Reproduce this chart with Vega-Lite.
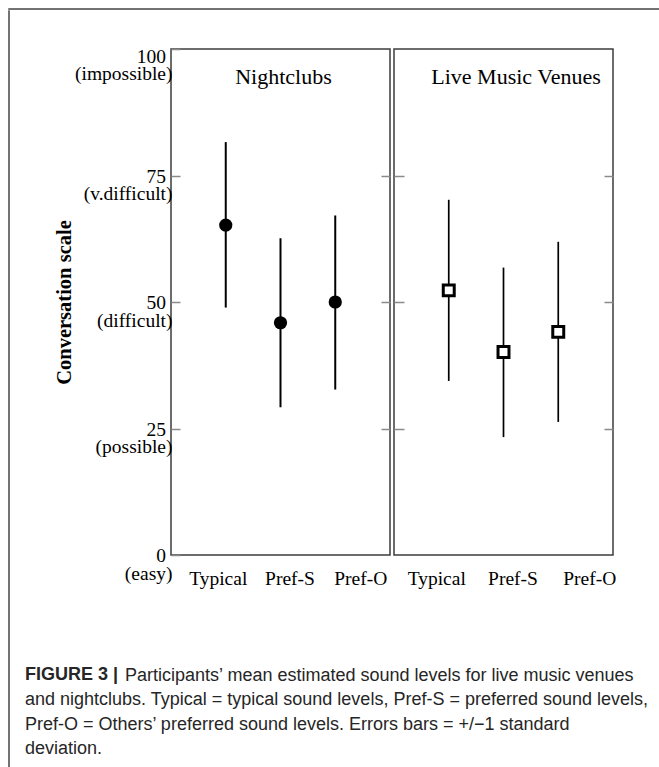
{
  "$schema": "https://vega.github.io/schema/vega-lite/v6.json",
  "background": "white",
  "padding": {"left": 8, "top": 8, "right": 0, "bottom": 0},
  "config": {"view": {"stroke": null}},
  "title": {
    "text": "FIGURE 3 |",
    "subtitle": [
      "\u200b\u00a0\u00a0\u00a0\u00a0\u00a0\u00a0\u00a0\u00a0\u00a0\u00a0\u00a0\u00a0\u00a0\u00a0\u00a0\u00a0\u00a0\u00a0\u00a0\u00a0Participants’ mean estimated sound levels for live music venues",
      "and nightclubs. Typical = typical sound levels, Pref-S = preferred sound levels,",
      "Pref-O = Others’ preferred sound levels. Errors bars = +/−1 standard",
      "deviation."
    ],
    "orient": "bottom", "anchor": "start", "frame": "bounds", "align": "left", "baseline": "top",
    "offset": -104.5, "dx": 16.75,
    "font": "Liberation Sans", "fontSize": 18, "fontWeight": "bold", "color": "#262626", "lineHeight": 24.5,
    "subtitleFont": "Liberation Sans", "subtitleFontSize": 18, "subtitleFontWeight": "normal",
    "subtitleColor": "#262626", "subtitleLineHeight": 24.5, "subtitlePadding": -17.5
  },
  "spacing": 0,
  "vconcat": [
    {"width": 651, "height": 0.001, "view": {"stroke": "#444444", "strokeWidth": 1.5}, "data": {"values": []}, "mark": "rect"},
    {
      "spacing": 43,
      "hconcat": [
        {"width": 0.001, "height": 759, "view": {"stroke": "#444444", "strokeWidth": 1.5}, "data": {"values": []}, "mark": "rect"},
        {
          "spacing": 33,
          "vconcat": [
            {"width": 0.001, "height": 0.001, "data": {"values": []}, "mark": "rect"},
            {
              "spacing": 0,
              "hconcat": [
                {
                  "width": 219,
                  "height": 506,
                  "view": {"stroke": "#3c3c3c", "strokeWidth": 1.5},
                  "data": {"values": [
                    {"condition": "Typical", "mean": 65.2, "lo": 48.9, "hi": 81.6},
                    {"condition": "Pref-S", "mean": 45.9, "lo": 29.2, "hi": 62.6},
                    {"condition": "Pref-O", "mean": 50.0, "lo": 32.7, "hi": 67.1}
                  ]},
                  "resolve": {"scale": {"y": "shared"}, "axis": {"y": "independent"}},
                  "layer": [
                    {
                      "mark": {"type": "rule", "color": "#000000", "strokeWidth": 2},
                      "encoding": {
                        "x": {
                          "field": "condition", "type": "nominal",
                          "scale": {"type": "point", "domain": ["Typical", "Pref-S", "Pref-O"], "padding": 1},
                          "axis": {
                            "title": null, "ticks": false, "tickSize": 0, "domain": false, "grid": false,
                            "labelAngle": 0, "labelFont": "Liberation Serif", "labelFontSize": 19.5,
                            "labelColor": "#000000", "labelPadding": 14, "labelOverlap": false, "labelFlush": false,
                            "labelOffset": {"condition": [{"test": "datum.value === 'Typical'", "value": -8}, {"test": "datum.value === 'Pref-S'", "value": 9}], "value": 25}
                          }
                        },
                        "y": {
                          "field": "lo", "type": "quantitative",
                          "scale": {"domain": [0, 100], "nice": false, "zero": false},
                          "axis": {
                            "orient": "left", "values": [0, 25, 50, 75, 100],
                            "title": "Conversation scale", "titleFont": "Liberation Serif", "titleFontWeight": "bold",
                            "titleFontSize": 20.5, "titleColor": "#000000", "titlePadding": 0,
                            "labelFont": "Liberation Serif", "labelFontSize": 19.5, "labelColor": "#000000",
                            "labelLineHeight": 17.5, "labelBaseline": "alphabetic", "labelAlign": "right",
                            "labelOffset": {"condition": {"test": "datum.value === 100", "value": 13}, "value": 6.5},
                            "labelPadding": 8, "labelOverlap": false, "labelFlush": false,
                            "labelExpr": "datum.value == 100 ? ['100\u00a0\u200a\u200b', '(impossible)'] : datum.value == 75 ? ['75\u00a0\u200a\u200b', '(v.difficult)'] : datum.value == 50 ? ['50\u00a0\u200a\u200b', '(difficult)'] : datum.value == 25 ? ['25\u00a0\u200a\u200b', '(possible)'] : ['0\u00a0\u200a\u200b', '(easy)']",
                            "tickSize": -9, "tickColor": "#8a8a8a", "tickWidth": 1.5,
                            "domain": false, "grid": false
                          }
                        },
                        "y2": {"field": "hi"}
                      }
                    },
                    {
                      "mark": {"type": "point", "shape": "circle", "filled": true, "size": 175, "color": "#000000", "opacity": 1},
                      "encoding": {
                        "x": {"field": "condition", "type": "nominal"},
                        "y": {
                          "field": "mean", "type": "quantitative",
                          "axis": {"orient": "right", "values": [25, 50, 75], "labels": false, "title": null, "tickSize": -9, "tickColor": "#8a8a8a", "tickWidth": 1.5, "domain": false, "grid": false}
                        }
                      }
                    },
                    {
                      "data": {"values": [{"title": "Nightclubs"}]},
                      "mark": {"type": "text", "font": "Liberation Serif", "fontSize": 22, "align": "center", "baseline": "alphabetic", "dx": 3, "color": "#000000"},
                      "encoding": {
                        "x": {"datum": "Pref-S", "type": "nominal"},
                        "y": {"datum": 93.1, "type": "quantitative", "axis": null},
                        "text": {"field": "title"}
                      }
                    }
                  ]
                },
                {
                  "width": 219,
                  "height": 506,
                  "view": {"stroke": "#3c3c3c", "strokeWidth": 1.5},
                  "data": {"values": [
                    {"condition": "Typical", "mean": 52.3, "lo": 34.4, "hi": 70.2},
                    {"condition": "Pref-S", "mean": 40.1, "lo": 23.3, "hi": 56.8},
                    {"condition": "Pref-O", "mean": 44.1, "lo": 26.3, "hi": 61.9}
                  ]},
                  "resolve": {"scale": {"y": "shared"}, "axis": {"y": "independent"}},
                  "layer": [
                    {
                      "mark": {"type": "rule", "color": "#000000", "strokeWidth": 1.7},
                      "encoding": {
                        "x": {
                          "field": "condition", "type": "nominal",
                          "scale": {"type": "point", "domain": ["Typical", "Pref-S", "Pref-O"], "padding": 1},
                          "axis": {
                            "title": null, "ticks": false, "tickSize": 0, "domain": false, "grid": false,
                            "labelAngle": 0, "labelFont": "Liberation Serif", "labelFontSize": 19.5,
                            "labelColor": "#000000", "labelPadding": 14, "labelOverlap": false, "labelFlush": false,
                            "labelOffset": {"condition": [{"test": "datum.value === 'Typical'", "value": -12.5}, {"test": "datum.value === 'Pref-S'", "value": 9}], "value": 31}
                          }
                        },
                        "y": {
                          "field": "lo", "type": "quantitative",
                          "scale": {"domain": [0, 100], "nice": false, "zero": false},
                          "axis": {"orient": "left", "values": [25, 50, 75], "labels": false, "title": null, "tickSize": -10, "tickColor": "#8a8a8a", "tickWidth": 1.5, "domain": false, "grid": false}
                        },
                        "y2": {"field": "hi"}
                      }
                    },
                    {
                      "mark": {"type": "point", "shape": "square", "filled": false, "fill": "#ffffff", "stroke": "#000000", "strokeWidth": 3, "size": 120, "opacity": 1},
                      "encoding": {
                        "x": {"field": "condition", "type": "nominal"},
                        "y": {
                          "field": "mean", "type": "quantitative",
                          "axis": {"orient": "right", "values": [25, 50, 75], "labels": false, "title": null, "tickSize": -9, "tickColor": "#8a8a8a", "tickWidth": 1.5, "domain": false, "grid": false}
                        }
                      }
                    },
                    {
                      "data": {"values": [{"title": "Live Music Venues"}]},
                      "mark": {"type": "text", "font": "Liberation Serif", "fontSize": 22, "align": "center", "baseline": "alphabetic", "dx": 12.5, "color": "#000000"},
                      "encoding": {
                        "x": {"datum": "Pref-S", "type": "nominal"},
                        "y": {"datum": 93.1, "type": "quantitative", "axis": null},
                        "text": {"field": "title"}
                      }
                    }
                  ]
                }
              ]
            }
          ]
        }
      ]
    }
  ]
}
